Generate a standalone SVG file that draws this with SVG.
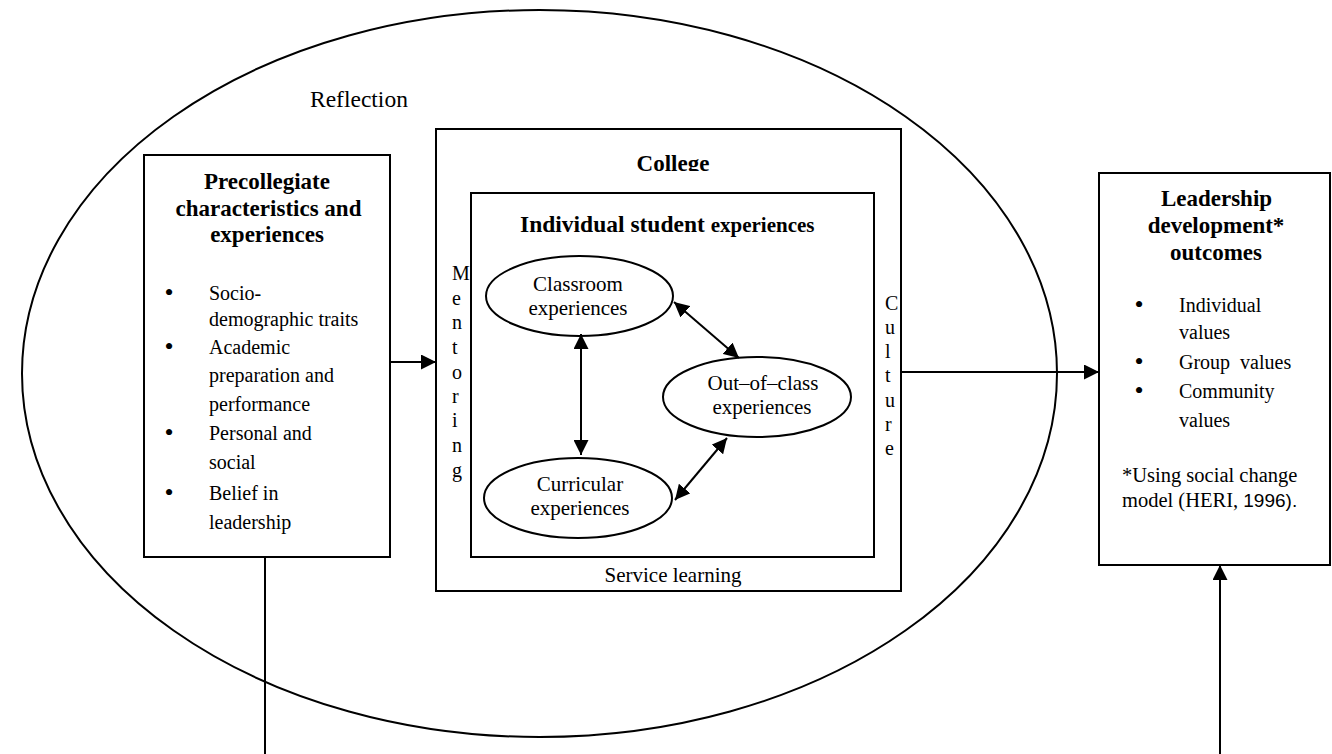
<svg xmlns="http://www.w3.org/2000/svg" width="1332" height="754" viewBox="0 0 1332 754">
<style>
text { font-family: "Liberation Serif", "Times New Roman", serif; fill: #000; }
.b { font-weight: bold; font-size: 23px; text-anchor: middle; }
.t { font-size: 20px; }
.e { font-size: 21px; text-anchor: middle; }
.v { font-size: 20px; }
.bul { font-size: 26px; text-anchor: middle; }
.box { fill: none; stroke: #000; stroke-width: 2; }
.ln { fill: none; stroke: #000; stroke-width: 2; }
</style>
<defs>
<marker id="ah" markerUnits="userSpaceOnUse" markerWidth="15" markerHeight="15" refX="15" refY="7.5" orient="auto-start-reverse">
<path d="M0,0 L15,7.5 L0,15 z" fill="#000"/>
</marker>
<clipPath id="clipCollege"><rect x="436" y="129" width="465" height="42"/></clipPath>
</defs>
<rect width="1332" height="754" fill="#fff"/>

<g id="reflection">
<ellipse cx="539.5" cy="373.5" rx="517.5" ry="363.5" class="box"/>
<text x="310" y="107" style="font-size:23.5px">Reflection</text>
</g>

<g id="precollegiate">
<rect x="144" y="155" width="246" height="402" class="box"/>
<text class="b" x="267" y="189">Precollegiate</text>
<text class="b" x="268.5" y="216">characteristics and</text>
<text class="b" x="267" y="242">experiences</text>
<text class="bul" x="169" y="301">•</text>
<text class="t" x="209" y="300">Socio-</text>
<text class="t" x="209" y="326">demographic traits</text>
<text class="bul" x="169" y="355">•</text>
<text class="t" x="209" y="354">Academic</text>
<text class="t" x="209" y="382">preparation and</text>
<text class="t" x="209" y="411">performance</text>
<text class="bul" x="169" y="441">•</text>
<text class="t" x="209" y="440">Personal and</text>
<text class="t" x="209" y="469">social</text>
<text class="bul" x="169" y="501">•</text>
<text class="t" x="209" y="500">Belief in</text>
<text class="t" x="209" y="529">leadership</text>
</g>

<g id="college">
<rect x="436" y="129" width="465" height="462" class="box"/>
<text class="b" x="673" y="171" clip-path="url(#clipCollege)">College</text>
<g id="mentoring">
<text class="v" x="452" y="280">M</text>
<text class="v" x="452" y="305">e</text>
<text class="v" x="452" y="329">n</text>
<text class="v" x="452" y="354">t</text>
<text class="v" x="452" y="379">o</text>
<text class="v" x="452" y="403">r</text>
<text class="v" x="452" y="427">i</text>
<text class="v" x="452" y="452">n</text>
<text class="v" x="452" y="477">g</text>
</g>
<g id="culture">
<text class="v" x="885" y="310">C</text>
<text class="v" x="885" y="334">u</text>
<text class="v" x="885" y="358">l</text>
<text class="v" x="885" y="382">t</text>
<text class="v" x="885" y="407">u</text>
<text class="v" x="885" y="431">r</text>
<text class="v" x="885" y="455">e</text>
</g>
<text class="e" x="673" y="582">Service learning</text>
</g>

<g id="individual">
<rect x="471" y="193" width="403" height="364" class="box"/>
<text x="520" y="232" style="font-weight:bold;font-size:23.5px">Individual student <tspan style="font-size:21px">experiences</tspan></text>
</g>

<g id="classroom">
<ellipse cx="579.5" cy="296" rx="93.5" ry="40" class="box"/>
<text class="e" x="578" y="291">Classroom</text>
<text class="e" x="578" y="315">experiences</text>
</g>

<g id="outofclass">
<ellipse cx="757" cy="397" rx="94" ry="40" class="box"/>
<text class="e" x="763" y="390">Out–of–class</text>
<text class="e" x="762" y="414">experiences</text>
</g>

<g id="curricular">
<ellipse cx="578" cy="498" rx="94" ry="40" class="box"/>
<text class="e" x="580" y="491">Curricular</text>
<text class="e" x="580" y="515">experiences</text>
</g>

<g id="leadership">
<rect x="1099" y="173" width="231" height="392" class="box"/>
<text class="b" x="1216.5" y="206">Leadership</text>
<text class="b" x="1216" y="233">development*</text>
<text class="b" x="1216" y="260">outcomes</text>
<text class="bul" x="1139" y="313">•</text>
<text class="t" x="1179" y="312">Individual</text>
<text class="t" x="1179" y="339">values</text>
<text class="bul" x="1139" y="370">•</text>
<text class="t" x="1179" y="369" xml:space="preserve">Group  values</text>
<text class="bul" x="1139" y="399">•</text>
<text class="t" x="1179" y="398">Community</text>
<text class="t" x="1179" y="427">values</text>
<text x="1122" y="482" style="font-size:20.5px">*Using social change</text>
<text x="1122" y="507" style="font-size:20.5px">model (HERI, <tspan style="font-family:'Liberation Sans', Arial, sans-serif;font-size:19px">1996).</tspan></text>
</g>

<g id="connectors">
<line x1="390" y1="362" x2="436" y2="362" class="ln" marker-end="url(#ah)"/>
<line x1="901" y1="372" x2="1099" y2="372" class="ln" marker-end="url(#ah)"/>
<line x1="265" y1="557" x2="265" y2="754" class="ln"/>
<line x1="1220" y1="754" x2="1220" y2="565" class="ln" marker-end="url(#ah)"/>
<line x1="581" y1="334" x2="581" y2="455" class="ln" marker-start="url(#ah)" marker-end="url(#ah)"/>
<line x1="674" y1="302" x2="739" y2="358" class="ln" marker-start="url(#ah)" marker-end="url(#ah)"/>
<line x1="675" y1="500" x2="727" y2="438" class="ln" marker-start="url(#ah)" marker-end="url(#ah)"/>
</g>
</svg>
